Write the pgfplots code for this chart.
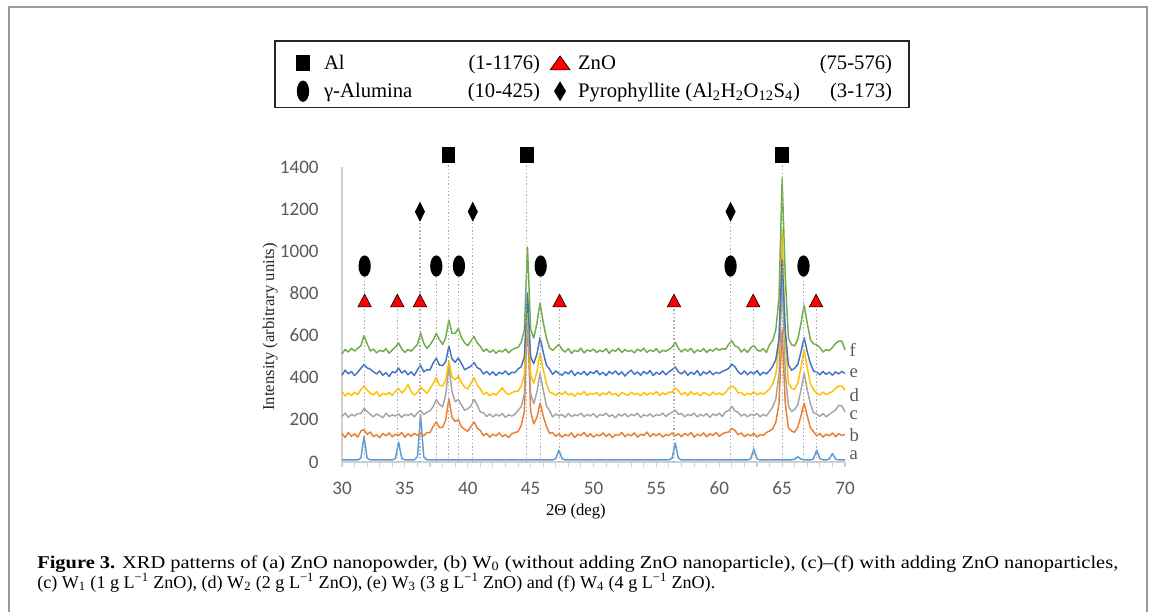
\documentclass[border=0pt]{standalone}
\usepackage{fontspec}
\setmainfont{Liberation Serif}
\newfontfamily\carlito{Carlito}
\usepackage{graphicx}
\usepackage{pgfplots}
\usepackage{pgfplotstable}
\pgfplotsset{compat=1.18}

\definecolor{ca}{HTML}{5B9BD5}
\definecolor{cb}{HTML}{ED7D31}
\definecolor{cc}{HTML}{A5A5A5}
\definecolor{cd}{HTML}{FFC000}
\definecolor{ce}{HTML}{4472C4}
\definecolor{cf}{HTML}{70AD47}
\definecolor{labgray}{HTML}{595959}
\definecolor{axgray}{HTML}{D0D0D0}
\definecolor{dotgray}{HTML}{ABABAB}

% phase markers
\pgfdeclareplotmark{alsq}{\pgfpathrectangle{\pgfpoint{-5pt}{-6pt}}{\pgfpoint{10pt}{12pt}}\pgfusepathqfill}
\pgfdeclareplotmark{alel}{\pgfpathellipse{\pgfpointorigin}{\pgfpoint{4.6pt}{0pt}}{\pgfpoint{0pt}{8pt}}\pgfusepathqfill}
\pgfdeclareplotmark{pydi}{\pgfpathmoveto{\pgfpoint{0pt}{7.5pt}}\pgfpathlineto{\pgfpoint{3.8pt}{0pt}}%
  \pgfpathlineto{\pgfpoint{0pt}{-7.5pt}}\pgfpathlineto{\pgfpoint{-3.8pt}{0pt}}\pgfpathclose\pgfusepathqfill}
\pgfdeclareplotmark{pydileg}{\pgfpathmoveto{\pgfpoint{0pt}{7.5pt}}\pgfpathlineto{\pgfpoint{4.5pt}{0pt}}%
  \pgfpathlineto{\pgfpoint{0pt}{-7.5pt}}\pgfpathlineto{\pgfpoint{-4.5pt}{0pt}}\pgfpathclose\pgfusepathqfill}
\pgfdeclareplotmark{zntri}{\pgfpathmoveto{\pgfpoint{0pt}{5pt}}\pgfpathlineto{\pgfpoint{5pt}{-4.5pt}}%
  \pgfpathlineto{\pgfpoint{-5pt}{-4.5pt}}\pgfpathclose\pgfusepathqfillstroke}
\pgfdeclareplotmark{zntrileg}{\pgfpathmoveto{\pgfpoint{0pt}{5.5pt}}\pgfpathlineto{\pgfpoint{7.5pt}{-5pt}}%
  \pgfpathlineto{\pgfpoint{-7.5pt}{-5pt}}\pgfpathclose\pgfusepathqfillstroke}

\pgfplotsset{
  legbox/.style={legend image code/.code={\path[draw=none] (-10pt,-8.25pt) rectangle (10pt,12.75pt);
      \draw[##1] plot coordinates {(0pt,0pt)};}},
  legtri/.style={legend image code/.code={\path[draw=none] (-10pt,-8.25pt) rectangle (10pt,12.75pt);
      \draw[##1, mark=zntrileg] plot coordinates {(0pt,0pt)};}},
  legdia/.style={legend image code/.code={\path[draw=none] (-10pt,-8.25pt) rectangle (10pt,12.75pt);
      \draw[##1, mark=pydileg] plot coordinates {(0pt,0pt)};}},
}

% XRD patterns a-f (offset as in the figure)
\pgfplotstableread{
x a b c d e f
30.00 10 136 216 334 412 514
30.25 10 116 232 314 436 534
30.50 10 140 212 328 418 522
30.75 10 122 226 316 430 540
31.00 10 134 218 330 410 526
31.25 10 118 230 320 426 540
31.50 18 147 230 344 445 551
31.75 120 154 254 360 462 600
32.00 18 131 240 342 447 561
32.25 10 142 226 326 440 527
32.50 10 120 214 318 428 536
32.75 10 130 228 334 418 518
33.00 10 115 220 312 432 530
33.25 10 136 210 326 412 524
33.50 10 124 232 320 424 538
33.75 10 138 216 330 406 516
34.00 10 120 224 316 428 532
34.25 17 132 218 336 424 546
34.50 95 126 228 349 446 565
34.75 17 140 212 328 422 537
35.00 10 118 226 342 434 520
35.25 10 134 220 367 414 534
35.50 10 122 230 334 428 526
35.75 10 136 214 318 410 542
36.00 25 126 234 330 438 558
36.25 223 138 244 354 458 613
36.50 25 124 226 342 428 564
36.75 10 139 236 326 438 539
37.00 10 140 243 348 437 556
37.25 10 169 263 372 470 579
37.50 10 190 297 402 492 610
37.75 10 163 273 364 460 581
38.00 10 165 262 361 457 558
38.25 10 200 320 388 477 590
38.50 10 301 458 479 551 674
38.75 10 213 333 403 489 610
39.00 10 192 286 390 473 610
39.25 10 200 297 407 494 635
39.50 10 167 271 377 467 590
39.75 10 155 245 355 438 566
40.00 10 146 253 347 446 552
40.25 10 167 265 373 454 574
40.50 10 190 297 400 472 595
40.75 10 161 271 367 448 566
41.00 10 150 237 346 440 549
41.25 10 125 234 322 418 525
41.50 10 136 216 330 430 536
41.75 10 118 228 314 414 520
42.00 10 132 214 326 428 532
42.25 10 124 226 318 410 516
42.50 10 138 218 336 426 530
42.75 10 120 230 352 418 522
43.00 10 130 212 330 432 536
43.25 10 116 224 320 414 518
43.50 10 134 218 328 426 532
43.75 10 140 226 336 424 540
44.00 10 144 246 335 442 544
44.25 10 173 262 360 452 568
44.50 10 240 322 416 498 626
44.75 10 688 722 792 802 1020
45.00 10 240 322 416 498 631
45.25 10 181 277 374 467 588
45.50 10 212 332 427 512 658
45.75 10 280 422 517 590 755
46.00 10 219 342 439 522 664
46.25 10 170 268 375 460 589
46.50 10 136 244 332 441 542
46.75 10 140 214 326 416 530
47.00 16 122 228 316 432 544
47.25 57 134 218 330 420 558
47.50 16 118 226 320 412 534
47.75 10 130 212 334 428 522
48.00 10 124 230 318 418 538
48.25 10 138 216 326 434 516
48.50 10 116 224 312 410 530
48.75 10 132 220 328 426 524
49.00 10 126 232 320 416 540
49.25 10 140 214 334 430 518
49.50 10 120 226 316 412 532
49.75 10 134 218 326 428 526
50.00 10 118 230 322 420 536
50.25 10 130 212 330 434 520
50.50 10 124 226 314 414 530
50.75 10 138 220 328 426 524
51.00 10 122 232 320 410 538
51.25 10 134 216 334 430 516
51.50 10 116 224 318 418 532
51.75 10 130 210 326 432 526
52.00 10 126 228 312 414 540
52.25 10 140 218 330 428 520
52.50 10 120 230 322 408 534
52.75 10 132 214 316 424 524
53.00 10 124 226 332 436 530
53.25 10 138 220 320 416 518
53.50 10 118 232 326 428 536
53.75 10 132 212 314 412 526
54.00 10 126 224 330 430 540
54.25 10 142 218 318 418 520
54.50 10 120 228 328 434 532
54.75 10 134 214 322 410 524
55.00 10 124 226 334 426 538
55.25 10 136 220 316 416 518
55.50 10 118 232 328 432 530
55.75 10 130 216 320 414 526
56.00 10 126 228 332 428 534
56.25 18 138 236 332 438 546
56.50 90 124 247 352 452 568
56.75 18 134 226 338 428 540
57.00 10 120 230 318 418 522
57.25 10 136 214 330 432 536
57.50 10 126 226 316 412 526
57.75 10 140 220 334 426 540
58.00 10 118 232 320 416 518
58.25 10 132 214 328 434 532
58.50 10 124 226 314 410 524
58.75 10 138 218 330 428 538
59.00 10 120 230 322 418 520
59.25 10 134 212 316 432 534
59.50 10 126 228 332 414 526
59.75 10 140 220 320 426 540
60.00 10 122 232 328 420 530
60.25 10 134 216 318 430 538
60.50 10 140 238 330 436 535
60.75 10 142 244 350 444 559
61.00 10 160 264 360 464 575
61.25 10 150 242 352 452 551
61.50 10 130 236 328 428 545
61.75 10 138 218 330 416 522
62.00 10 120 228 316 432 536
62.25 10 132 214 326 414 520
62.50 15 124 226 320 428 542
62.75 62 136 220 334 418 553
63.00 15 118 230 318 434 532
63.25 10 130 214 328 412 526
63.50 10 126 226 322 426 538
63.75 10 140 218 332 418 520
64.00 10 147 240 347 434 557
64.25 10 158 261 369 454 578
64.50 10 188 300 416 487 628
64.75 10 278 417 556 582 778
65.00 10 626 872 1102 962 1345
65.25 10 278 422 582 622 878
65.50 10 163 267 377 462 588
65.75 10 147 240 349 436 557
66.00 14 141 249 345 445 551
66.25 25 166 272 375 464 582
66.50 14 219 342 448 522 658
66.75 10 280 422 532 590 745
67.00 10 219 342 448 522 658
67.25 10 162 276 371 468 580
67.50 16 144 234 343 431 561
67.75 57 124 228 326 428 556
68.00 16 136 216 318 414 544
68.25 10 118 230 332 430 522
68.50 10 132 214 320 416 534
68.75 14 124 226 328 426 528
69.00 40 138 237 334 412 544
69.25 14 120 247 350 428 562
69.50 10 134 269 360 418 574
69.75 10 126 266 361 430 574
70.00 10 130 238 340 420 532
}\xrd

\begin{document}
\begin{tikzpicture}
\useasboundingbox (0,0) rectangle (864.75pt,-459pt);
% outer frame of the figure panel
\draw[black!40, line width=1pt] (6.75pt,-459pt) -- (6.75pt,-5.25pt) -- (860.25pt,-5.25pt) -- (860.25pt,-459pt);

\begin{axis}[
  at={(256.5pt,-346.5pt)}, anchor=south west,
  scale only axis, width=377.25pt, height=221.25pt,
  xmin=30, xmax=70, ymin=0, ymax=1400,
  axis x line=bottom, axis y line=left,
  axis line style={-, draw=axgray, line width=0.8pt},
  xtick={30,35,...,70}, minor x tick num=4,
  ytick={0,200,...,1400},
  tick align=outside, major tick length=4pt, minor tick length=4pt,
  xtick style={draw=axgray, line width=0.8pt},
  ytick style={draw=none},
  tick label style={font=\carlito\fontsize{14.3}{17}\selectfont, text=labgray},
  /pgf/number format/assume math mode=true,
  /pgf/number format/1000 sep={},
  yticklabel style={xshift=-10pt},
  xticklabel style={yshift=-7.5pt},
  xlabel={2Θ (deg)}, ylabel={Intensity (arbitrary units)},
  xlabel style={at={(axis description cs:0.465,-0.1695)}, anchor=center, font=\fontsize{12.5}{15}\selectfont},
  ylabel style={at={(axis description cs:-0.143,0.458)}, anchor=center, font=\fontsize{12.5}{15}\selectfont, text=black!85},
  clip=false,
  legend columns=2,
  legend cell align=left,
  legend style={at={(axis description cs:-0.1352,1.4305)}, anchor=north west,
    draw=black!85, line width=1.3pt, inner xsep=11.1pt, inner ysep=4pt,
    font=\fontsize{15.5}{18}\selectfont,
    nodes={inner sep=0pt},
    /tikz/every odd column/.style={column sep=0pt},
    /tikz/every even column/.style={column sep=0pt}},
]
\addplot[ca, line width=1.1pt, line join=round, forget plot] table[x=x, y=a] {\xrd};
\addplot[cb, line width=1.1pt, line join=round, forget plot] table[x=x, y=b] {\xrd};
\addplot[cc, line width=1.1pt, line join=round, forget plot] table[x=x, y=c] {\xrd};
\addplot[cd, line width=1.1pt, line join=round, forget plot] table[x=x, y=d] {\xrd};
\addplot[ce, line width=1.1pt, line join=round, forget plot] table[x=x, y=e] {\xrd};
\addplot[cf, line width=1.1pt, line join=round, forget plot] table[x=x, y=f] {\xrd};

% dotted drop lines under the phase markers
\addplot[ycomb, dotgray, line width=0.8pt, dash pattern=on 1.1pt off 1.6pt, forget plot] coordinates {
  (31.8,930) (34.4,765) (36.2,1188) (37.5,930) (38.45,1456) (39.3,930) (40.4,1188)
  (44.7,1456) (45.8,930) (47.3,765) (56.4,765) (60.9,1188) (62.7,765) (65.0,1456)
  (66.7,930) (67.7,765)};

\addplot[only marks, mark=alsq, black, legbox]
  coordinates {(38.45,1456) (44.7,1456) (65.0,1456)};
\addlegendentry{\hbox to 172.8pt{\hskip5.8pt Al\hfill(1-1176)\hskip5pt}}
\addplot[only marks, mark=zntri, black, mark options={fill=red, draw=black, line width=0.45pt}, legtri]
  coordinates {(31.8,765) (34.4,765) (36.2,765) (47.3,765) (56.4,765) (62.7,765) (67.7,765)};
\addlegendentry{\hbox to 240.7pt{\hskip3.5pt ZnO\hfill(75-576)\hskip1.7pt}}
\addplot[only marks, mark=alel, black, legbox]
  coordinates {(31.8,930) (37.5,930) (39.3,930) (45.8,930) (60.9,930) (66.7,930)};
\addlegendentry{\hbox to 172.8pt{\hskip5.8pt γ-Alumina\hfill(10-425)\hskip5pt}}
\addplot[only marks, mark=pydi, black, legdia]
  coordinates {(36.2,1188) (40.4,1188) (60.9,1188)};
\addlegendentry{\hbox to 240.7pt{\hskip3.5pt Pyrophyllite (Al\textsubscript{2}H\textsubscript{2}O\textsubscript{12}S\textsubscript{4})\hfill(3-173)\hskip1.7pt}}

% curve letters
\node[anchor=west, inner sep=0pt, text=labgray, font=\fontsize{14}{16}\selectfont] at (axis cs:70.35,33) {a};
\node[anchor=west, inner sep=0pt, text=labgray, font=\fontsize{14}{16}\selectfont] at (axis cs:70.35,128) {b};
\node[anchor=west, inner sep=0pt, text=labgray, font=\fontsize{14}{16}\selectfont] at (axis cs:70.35,223) {c};
\node[anchor=west, inner sep=0pt, text=labgray, font=\fontsize{14}{16}\selectfont] at (axis cs:70.35,318) {d};
\node[anchor=west, inner sep=0pt, text=labgray, font=\fontsize{14}{16}\selectfont] at (axis cs:70.35,422) {e};
\node[anchor=west, inner sep=0pt, text=labgray, font=\fontsize{14}{16}\selectfont] at (axis cs:70.35,532) {f};
\end{axis}

% figure caption
\node[anchor=base west, inner sep=0pt, font=\fontsize{13.5}{16}\selectfont] at (27.75pt,-426pt)
  {\resizebox{810.75pt}{\height}{\textbf{Figure 3.} XRD patterns of (a) ZnO nanopowder, (b) W\textsubscript{0} (without adding ZnO nanoparticle), (c)–(f) with adding ZnO nanoparticles,}};
\node[anchor=base west, inner sep=0pt, font=\fontsize{13.5}{16}\selectfont] at (27.75pt,-441pt)
  {\resizebox{508.5pt}{\height}{(c) W\textsubscript{1} (1 g L\textsuperscript{−1} ZnO), (d) W\textsubscript{2} (2 g L\textsuperscript{−1} ZnO), (e) W\textsubscript{3} (3 g L\textsuperscript{−1} ZnO) and (f) W\textsubscript{4} (4 g L\textsuperscript{−1} ZnO).}};
\end{tikzpicture}
\end{document}
